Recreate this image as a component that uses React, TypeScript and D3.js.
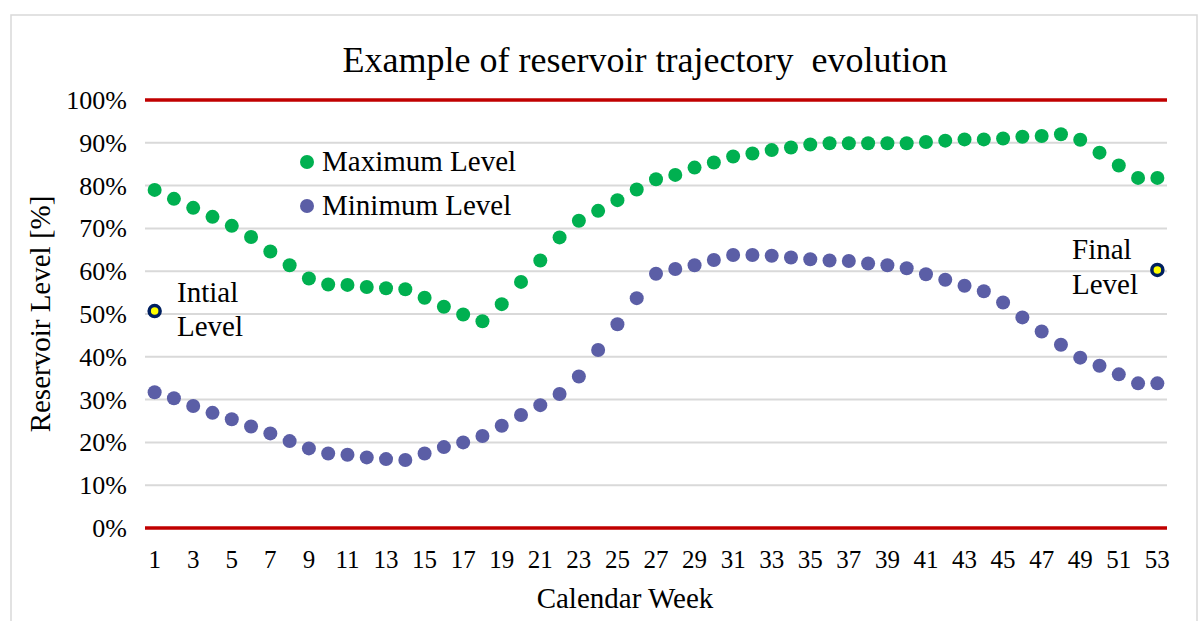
import React from "react";
import * as d3 from "d3";

// weeks 1..53
const weeks = Array.from({ length: 53 }, (_, i) => i + 1);
const weekTicks = weeks.filter((w) => w % 2 === 1);

// values, in %
const maxLevel = [
  79.0, 76.9, 74.8, 72.7, 70.6, 68.0, 64.6, 61.4, 58.3, 56.9,
  56.8, 56.3, 56.0, 55.8, 53.8, 51.7, 49.9, 48.3, 52.3, 57.5,
  62.5, 67.9, 71.8, 74.1, 76.6, 79.1, 81.5, 82.5, 84.2, 85.4,
  86.8, 87.5, 88.3, 88.9, 89.6, 89.9, 89.9, 89.9, 89.9, 89.9,
  90.2, 90.5, 90.8, 90.8, 91.0, 91.4, 91.6, 92.0, 90.7, 87.7,
  84.7, 81.8, 81.8,
];
const minLevel = [
  31.7, 30.3, 28.5, 26.9, 25.4, 23.7, 22.1, 20.3, 18.6, 17.4,
  17.1, 16.5, 16.1, 15.9, 17.4, 18.9, 20.0, 21.5, 23.9, 26.4,
  28.7, 31.3, 35.4, 41.6, 47.6, 53.7, 59.4, 60.5, 61.4, 62.6,
  63.8, 63.8, 63.6, 63.2, 62.8, 62.5, 62.4, 61.8, 61.4, 60.7,
  59.3, 58.0, 56.6, 55.3, 52.7, 49.2, 45.9, 42.8, 39.8, 37.9,
  35.9, 33.8, 33.8,
];
const yTicks = [0, 10, 20, 30, 40, 50, 60, 70, 80, 90, 100];
const initialLevel = { week: 1, value: 50.7, label: ["Intial", "Level"] };
const finalLevel = { week: 53, value: 60.3, label: ["Final", "Level"] };

const W = 1202;
const H = 621;
const FONT = "'Liberation Serif', 'Times New Roman', serif";
const GREEN = "#00B050";
const PURPLE = "#5B5EA6";

export default function App() {
  const left = 145;
  const right = 1167;
  const top = 100;
  const bottom = 528;

  const x = d3.scaleBand<number>().domain(weeks).range([left, right]).padding(0);
  const y = d3.scaleLinear().domain([0, 100]).range([bottom, top]);
  const cx = (w: number) => (x(w) as number) + x.bandwidth() / 2;

  return (
    <svg
      width={W}
      height={H}
      style={{ position: "absolute", left: 0, top: 0, background: "#fff" }}
      fontFamily={FONT}
    >
      <rect x={11} y={15} width={1186} height={640} fill="#fff" stroke="#D9D9D9" strokeWidth={1.5} />

      <text x={645} y={72} textAnchor="middle" fontSize={36} fill="#000">
        Example of reservoir trajectory{"\u00A0"} evolution
      </text>

      {/* grid + y labels */}
      {yTicks.map((t) => (
        <g key={t}>
          <line
            x1={left}
            x2={right}
            y1={y(t)}
            y2={y(t)}
            stroke={t === 0 || t === 100 ? "#C00000" : "#D9D9D9"}
            strokeWidth={t === 0 || t === 100 ? 3.5 : 2}
          />
          <text x={127} y={y(t) + 9} textAnchor="end" fontSize={26} fill="#000">
            {t}%
          </text>
        </g>
      ))}

      {/* x labels */}
      {weekTicks.map((w) => (
        <text key={w} x={cx(w)} y={568} textAnchor="middle" fontSize={25} fill="#000">
          {w}
        </text>
      ))}

      <text x={625} y={608} textAnchor="middle" fontSize={29} fill="#000">
        Calendar Week
      </text>
      <text
        transform={`translate(50,314) rotate(-90)`}
        textAnchor="middle"
        fontSize={29}
        fill="#000"
      >
        Reservoir Level [%]
      </text>

      {/* series */}
      {maxLevel.map((v, i) => (
        <circle key={"mx" + i} cx={cx(weeks[i])} cy={y(v)} r={7} fill={GREEN} />
      ))}
      {minLevel.map((v, i) => (
        <circle key={"mn" + i} cx={cx(weeks[i])} cy={y(v)} r={7} fill={PURPLE} />
      ))}

      {/* initial / final markers */}
      {[initialLevel, finalLevel].map((m) => (
        <circle
          key={m.week}
          cx={cx(m.week)}
          cy={y(m.value)}
          r={5.5}
          fill="#FFFF00"
          stroke="#002060"
          strokeWidth={3.5}
        />
      ))}
      <text x={177} fontSize={29} fill="#000">
        <tspan x={177} y={302}>{initialLevel.label[0]}</tspan>
        <tspan x={177} y={336}>{initialLevel.label[1]}</tspan>
      </text>
      <text fontSize={29} fill="#000">
        <tspan x={1072} y={259}>{finalLevel.label[0]}</tspan>
        <tspan x={1072} y={294}>{finalLevel.label[1]}</tspan>
      </text>

      {/* legend */}
      <circle cx={307} cy={162} r={7} fill={GREEN} />
      <text x={322} y={171} fontSize={29} fill="#000">
        Maximum Level
      </text>
      <circle cx={307} cy={206} r={7} fill={PURPLE} />
      <text x={322} y={215} fontSize={29} fill="#000">
        Minimum Level
      </text>
    </svg>
  );
}
